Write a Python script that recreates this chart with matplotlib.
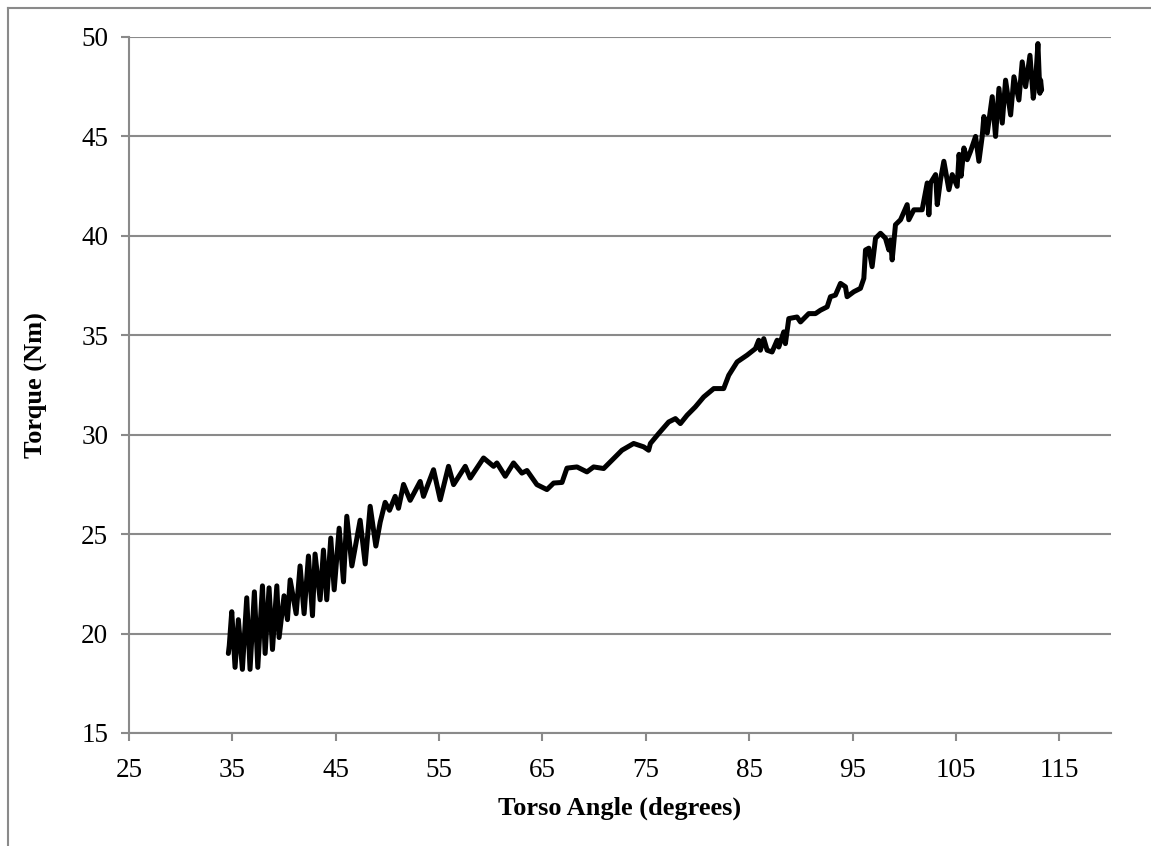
import matplotlib
matplotlib.use("Agg")
import matplotlib.pyplot as plt
from matplotlib.lines import Line2D

# Torso angle (degrees) and torque (Nm)
angle = [34.61, 34.70, 34.94, 35.26, 35.58, 35.97, 36.39, 36.71, 37.13, 37.46,
         37.91, 38.17, 38.55, 38.88, 39.30, 39.52, 40.00, 40.33, 40.59, 41.17,
         41.55, 41.94, 42.36, 42.75, 43.00, 43.49, 43.81, 44.13, 44.52, 44.85,
         45.33, 45.75, 46.07, 46.56, 47.36, 47.85, 48.33, 48.88, 49.30,
         49.78, 50.20, 50.75, 51.07, 51.56, 52.20, 53.17, 53.49, 54.46, 55.11,
         55.91, 56.40, 57.53, 58.01, 59.30, 60.27, 60.59, 61.40, 62.20, 63.01,
         63.50, 64.46, 65.43, 66.08, 66.89, 67.37,
         68.34, 69.30, 69.95, 70.92, 71.56, 72.69, 73.82, 74.79, 75.27, 75.44,
         76.24, 77.21, 77.86, 78.34, 78.99, 79.79, 80.60, 81.57, 82.53, 83.02,
         83.83, 84.79, 85.60, 85.92, 86.08, 86.41, 86.73, 87.21, 87.70, 87.86,
         88.34, 88.50, 88.83, 89.63, 89.96, 90.76,
         91.41, 91.89, 92.54, 92.86, 93.34, 93.83, 94.31, 94.47, 95.12, 95.76,
         96.09, 96.25, 96.57, 96.89, 97.22, 97.70, 98.18, 98.51, 98.67, 98.83,
         99.15, 99.64, 100.28, 100.44, 100.93, 101.73, 102.22, 102.38, 102.54,
         103.03, 103.19, 103.51, 103.83, 104.32, 104.64, 105.12, 105.30, 105.50,
         105.77, 106.09, 106.41, 106.90, 107.22, 107.54, 107.70, 108.03, 108.51,
         108.83, 109.16, 109.48, 109.80, 110.29, 110.61, 111.09, 111.41, 111.74,
         112.16, 112.48, 112.71, 112.93, 113.12, 113.19, 113.29]
torque = [19.00, 19.40, 21.10, 18.30, 20.70, 18.20, 21.80, 18.20, 22.10, 18.30,
          22.40, 19.00, 22.30, 19.20, 22.40, 19.80, 21.90, 20.70, 22.70, 21.00,
          23.40, 21.00, 23.90, 20.90, 24.00, 21.70, 24.20, 21.70, 24.80, 22.20,
          25.30, 22.60, 25.90, 23.40, 25.70, 23.50, 26.40, 24.40, 25.60,
          26.60, 26.20, 26.90, 26.30, 27.50, 26.70, 27.65, 26.90, 28.24, 26.73,
          28.41, 27.49, 28.41, 27.82, 28.83, 28.41, 28.58, 27.91, 28.58, 28.07,
          28.20, 27.49, 27.24, 27.57, 27.60, 28.32,
          28.38, 28.13, 28.38, 28.30, 28.63, 29.22, 29.56, 29.39, 29.22, 29.56,
          30.06, 30.64, 30.81, 30.56, 30.98, 31.40, 31.90, 32.32, 32.32, 32.99,
          33.66, 34.00, 34.33, 34.75, 34.25, 34.83, 34.25, 34.16, 34.75, 34.41,
          35.17, 34.58, 35.84, 35.92, 35.67, 36.09,
          36.09, 36.26, 36.43, 36.94, 37.02, 37.61, 37.44, 36.94, 37.19, 37.36,
          37.86, 39.29, 39.38, 38.45, 39.88, 40.13, 39.88, 39.29, 39.80, 38.79,
          40.56, 40.81, 41.57, 40.81, 41.31, 41.31, 42.66, 41.06, 42.66,
          43.08, 41.57, 42.83, 43.75, 42.32, 43.08, 42.49, 44.10, 43.00,
          44.42, 43.83, 44.25, 45.00, 43.75, 45.00, 46.00, 45.17, 47.00,
          45.00, 47.42, 45.67, 47.83, 46.08, 48.00, 46.83, 48.75, 47.50,
          49.08, 46.92, 47.83, 49.67, 47.17, 47.83, 47.33]

x_ticks = [25, 35, 45, 55, 65, 75, 85, 95, 105, 115]
y_ticks = [15, 20, 25, 30, 35, 40, 45, 50]

plt.rcParams['font.family'] = ['Liberation Serif', 'DejaVu Serif']
GRAY = '#8a8a8a'

fig = plt.figure(figsize=(11.51, 8.46), dpi=100)
ax = fig.add_axes([129/1151, 1 - 733/846, (1111 - 129)/1151, (733 - 37)/846])

ax.plot(angle, torque, color='black', linewidth=3.6, solid_joinstyle='round',
        solid_capstyle='round', zorder=3)

ax.set_xlim(25, 120)
ax.set_ylim(15, 50)
ax.set_xticks(x_ticks)
ax.set_yticks(y_ticks)
ax.yaxis.grid(True, color=GRAY, linewidth=1.5)
ax.set_axisbelow(True)

for s in ['top', 'right']:
    ax.spines[s].set_visible(False)
for s in ['left', 'bottom']:
    ax.spines[s].set_color(GRAY)
    ax.spines[s].set_linewidth(1.5)

ax.tick_params(axis='both', colors=GRAY, length=6, width=1.5, direction='out',
               labelsize=19.5, labelcolor='black')
ax.tick_params(axis='y', pad=9)
ax.tick_params(axis='x', pad=12)

ax.set_xlabel('Torso Angle (degrees)', fontsize=19, fontweight='bold', labelpad=10)
ax.set_ylabel('Torque (Nm)', fontsize=19, fontweight='bold', labelpad=24)

# outer chart border (left and top edges visible)
fig.add_artist(Line2D([8/1151, 8/1151], [0, 1 - 8/846], transform=fig.transFigure,
                      color=GRAY, linewidth=1.5))
fig.add_artist(Line2D([8/1151, 1], [1 - 8/846, 1 - 8/846], transform=fig.transFigure,
                      color=GRAY, linewidth=1.5))

fig.savefig('out.png', dpi=100)
